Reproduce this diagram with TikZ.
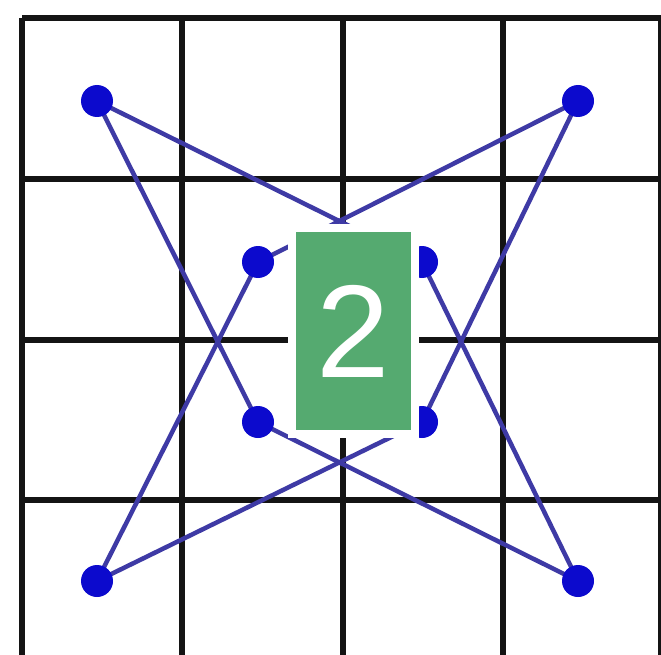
\documentclass[tikz,border=0pt]{standalone}
\usepackage{fontspec}
\setmainfont{Liberation Sans}
\definecolor{linecol}{RGB}{62,58,165}
\definecolor{dotcol}{RGB}{12,10,205}
\definecolor{labelgreen}{RGB}{85,170,112}
\definecolor{gridcol}{RGB}{20,20,20}
\pgfdeclarelayer{gridlayer}
\pgfdeclarelayer{linelayer}
\pgfsetlayers{gridlayer,linelayer,main}
\tikzset{
  gridline/.style={draw=gridcol, line width=5.5pt},
  dotnode/.style={circle, fill=dotcol, inner sep=0pt, minimum size=32pt},
  starline/.style={draw=linecol, line width=4.5pt},
  labelbox/.style={fill=labelgreen, draw=white, line width=8pt, minimum width=123pt, minimum height=206pt, inner sep=0pt, text=white, font=\fontsize{132}{132}\selectfont}
}
\begin{document}
\begin{tikzpicture}[x=1pt,y=-1pt]
\useasboundingbox (0,0) rectangle (661,655);
\node[dotnode] (tl) at (97,101) {};
\node[dotnode] (tr) at (578,101) {};
\node[dotnode] (bl) at (97,581) {};
\node[dotnode] (br) at (578,581) {};
\node[dotnode] (itl) at (258,262) {};
\node[dotnode] (itr) at (422,262) {};
\node[dotnode] (ibl) at (258,422) {};
\node[dotnode] (ibr) at (422,422) {};
\begin{pgfonlayer}{gridlayer}
\fill[white] (0,0) rectangle (661,655);
\begin{scope}
\clip (0,0) rectangle (661,655);
\foreach \x in {22,182,343,503,661} \draw[gridline] (\x,18) -- (\x,670);
\foreach \y in {18,179,340,500} \draw[gridline] (22,\y) -- (680,\y);
\end{scope}
\end{pgfonlayer}
\begin{pgfonlayer}{linelayer}
\draw[starline] (tl.center) -- (itr.center) -- (br.center) -- (ibl.center) -- (tl.center);
\draw[starline] (tr.center) -- (itl.center) -- (bl.center) -- (ibr.center) -- (tr.center);
\end{pgfonlayer}
\node[labelbox] (lab) at (353.5,331) {2};
\end{tikzpicture}
\end{document}
